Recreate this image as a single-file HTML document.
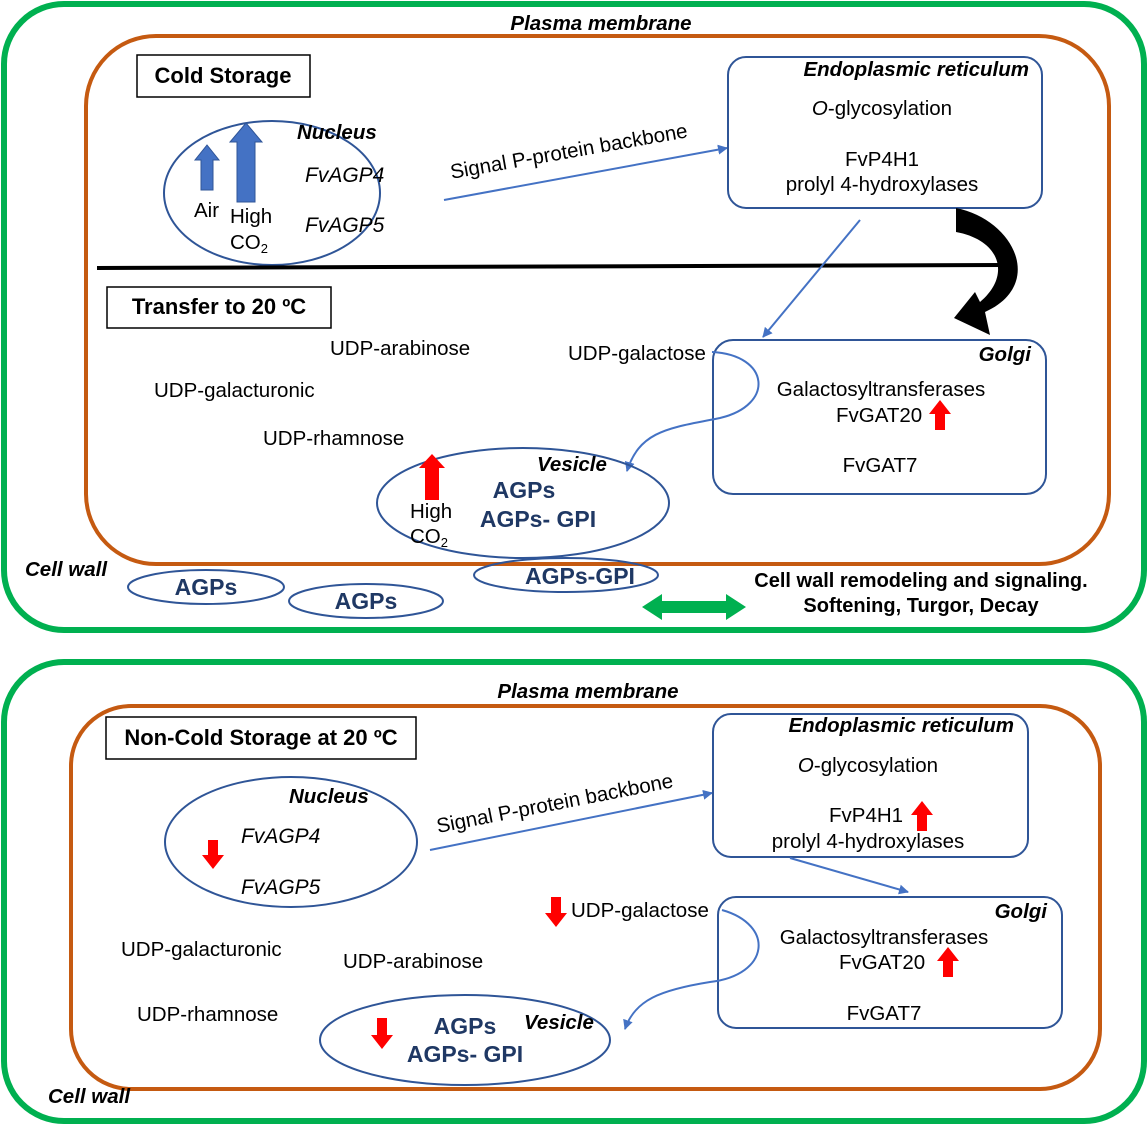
<!DOCTYPE html>
<html><head><meta charset="utf-8"><style>
html,body{margin:0;padding:0;background:#fff;}
svg{display:block;font-family:"Liberation Sans",Arial,sans-serif;}
.t{font-size:20.5px;fill:#000;}
.bi{font-size:20.5px;font-weight:bold;font-style:italic;fill:#000;}
.it{font-size:21px;font-style:italic;fill:#000;}
.nv{font-size:23px;font-weight:bold;fill:#1f3864;}
.bl{fill:none;stroke:#2f5597;stroke-width:2;}
.ln{stroke:#4472c4;stroke-width:2;fill:none;}
</style></head><body>
<svg width="1148" height="1125" viewBox="0 0 1148 1125">
<defs>
<marker id="ah" markerWidth="10" markerHeight="10" refX="9" refY="5" orient="auto" markerUnits="userSpaceOnUse"><path d="M0,0 L10,5 L0,10 Z" fill="#4472c4"/></marker>
</defs>
<!-- TOP -->
<rect x="4" y="4" width="1140" height="626" rx="60" fill="none" stroke="#00b050" stroke-width="6"/>
<rect x="86" y="36" width="1023" height="528" rx="70" fill="none" stroke="#c55a11" stroke-width="4"/>
<text x="601" y="30" class="bi" text-anchor="middle">Plasma membrane</text>
<rect x="137" y="55" width="173" height="42" fill="#fff" stroke="#000" stroke-width="1.5"/>
<text x="223" y="83" text-anchor="middle" style="font-size:22px;font-weight:bold">Cold Storage</text>
<ellipse cx="272" cy="193" rx="108" ry="72" class="bl"/>
<path d="M201,190 V160 H195 L207,145 L219,160 H213 V190 Z" fill="#4472c4" stroke="#2f5597"/>
<path d="M237,202 V142 H230 L246,123 L262,142 H255 V202 Z" fill="#4472c4" stroke="#2f5597"/>
<text x="194" y="217" class="t">Air</text>
<text x="230" y="223" class="t">High</text>
<text x="230" y="249" class="t">CO<tspan font-size="13" dy="4">2</tspan></text>
<text x="297" y="139" class="bi">Nucleus</text>
<text x="305" y="182" class="it">FvAGP4</text>
<text x="305" y="232" class="it">FvAGP5</text>
<line x1="444" y1="200" x2="727" y2="148" class="ln" marker-end="url(#ah)"/>
<text x="570" y="158" class="t" text-anchor="middle" transform="rotate(-10 570 158)">Signal P-protein backbone</text>
<rect x="728" y="57" width="314" height="151" rx="18" class="bl"/>
<text x="1029" y="76" class="bi" text-anchor="end">Endoplasmic reticulum</text>
<text x="882" y="115" class="t" text-anchor="middle"><tspan font-style="italic">O</tspan>-glycosylation</text>
<text x="882" y="166" class="t" text-anchor="middle">FvP4H1</text>
<text x="882" y="191" class="t" text-anchor="middle">prolyl 4-hydroxylases</text>
<line x1="97" y1="268" x2="1002" y2="265" stroke="#000" stroke-width="4"/>
<path d="M956,208 C1015,220 1045,285 985,312 L990,335 L954,318 L975,292 L980,302 C1012,275 1000,240 956,232 Z" fill="#000"/>
<line x1="860" y1="220" x2="763" y2="337" class="ln" marker-end="url(#ah)"/>
<rect x="107" y="287" width="224" height="41" fill="#fff" stroke="#000" stroke-width="1.5"/>
<text x="219" y="314" text-anchor="middle" style="font-size:22px;font-weight:bold">Transfer to 20 ºC</text>
<text x="330" y="355" class="t">UDP-arabinose</text>
<text x="154" y="397" class="t">UDP-galacturonic</text>
<text x="263" y="445" class="t">UDP-rhamnose</text>
<text x="568" y="360" class="t">UDP-galactose</text>
<rect x="713" y="340" width="333" height="154" rx="20" class="bl"/>
<text x="1031" y="361" class="bi" text-anchor="end">Golgi</text>
<text x="881" y="396" class="t" text-anchor="middle">Galactosyltransferases</text>
<text x="836" y="422" class="t">FvGAT20</text>
<path d="M935,430 V414 H929 L940,400 L951,414 H945 V430 Z" fill="#f00"/>
<text x="880" y="472" class="t" text-anchor="middle">FvGAT7</text>
<path d="M712,352 C770,355 775,405 720,418 C670,428 640,430 627,471" class="ln" marker-end="url(#ah)"/>
<ellipse cx="523" cy="503" rx="146" ry="55" class="bl"/>
<path d="M425,500 V468 H419 L432,454 L445,468 H439 V500 Z" fill="#f00"/>
<text x="410" y="518" class="t">High</text>
<text x="410" y="543" class="t">CO<tspan font-size="13" dy="4">2</tspan></text>
<text x="537" y="471" class="bi">Vesicle</text>
<text x="524" y="498" class="nv" text-anchor="middle">AGPs</text>
<text x="538" y="527" class="nv" text-anchor="middle">AGPs- GPI</text>
<ellipse cx="206" cy="587" rx="78" ry="17" class="bl"/>
<text x="206" y="595" class="nv" text-anchor="middle">AGPs</text>
<ellipse cx="366" cy="601" rx="77" ry="17" class="bl"/>
<text x="366" y="609" class="nv" text-anchor="middle">AGPs</text>
<ellipse cx="566" cy="575" rx="92" ry="17" class="bl"/>
<text x="580" y="584" class="nv" text-anchor="middle">AGPs-GPI</text>
<text x="25" y="576" class="bi">Cell wall</text>
<path d="M642,607 L662,594 V601 H726 V594 L746,607 L726,620 V613 H662 V620 Z" fill="#00b050"/>
<text x="921" y="587" text-anchor="middle" style="font-size:20px;font-weight:bold">Cell wall remodeling and signaling.</text>
<text x="921" y="612" text-anchor="middle" style="font-size:20px;font-weight:bold">Softening, Turgor, Decay</text>

<!-- BOTTOM -->
<rect x="4" y="662" width="1140" height="459" rx="60" fill="none" stroke="#00b050" stroke-width="6"/>
<rect x="71" y="706" width="1029" height="383" rx="60" fill="none" stroke="#c55a11" stroke-width="4"/>
<text x="588" y="698" class="bi" text-anchor="middle">Plasma membrane</text>
<rect x="106" y="717" width="310" height="42" fill="#fff" stroke="#000" stroke-width="1.5"/>
<text x="261" y="745" text-anchor="middle" style="font-size:22px;font-weight:bold">Non-Cold Storage at 20 ºC</text>
<ellipse cx="291" cy="842" rx="126" ry="65" class="bl"/>
<text x="289" y="803" class="bi">Nucleus</text>
<text x="241" y="843" class="it">FvAGP4</text>
<text x="241" y="894" class="it">FvAGP5</text>
<path d="M208,840 V855 H202 L213,869 L224,855 H218 V840 Z" fill="#f00"/>
<line x1="430" y1="850" x2="712" y2="793" class="ln" marker-end="url(#ah)"/>
<text x="556" y="810" class="t" text-anchor="middle" transform="rotate(-11 556 810)">Signal P-protein backbone</text>
<rect x="713" y="714" width="315" height="143" rx="18" class="bl"/>
<text x="1014" y="732" class="bi" text-anchor="end">Endoplasmic reticulum</text>
<text x="868" y="772" class="t" text-anchor="middle"><tspan font-style="italic">O</tspan>-glycosylation</text>
<text x="829" y="822" class="t">FvP4H1</text>
<path d="M917,831 V815 H911 L922,801 L933,815 H927 V831 Z" fill="#f00"/>
<text x="868" y="848" class="t" text-anchor="middle">prolyl 4-hydroxylases</text>
<line x1="790" y1="858" x2="908" y2="892" class="ln" marker-end="url(#ah)"/>
<rect x="718" y="897" width="344" height="131" rx="18" class="bl"/>
<text x="1047" y="918" class="bi" text-anchor="end">Golgi</text>
<text x="884" y="944" class="t" text-anchor="middle">Galactosyltransferases</text>
<text x="839" y="969" class="t">FvGAT20</text>
<path d="M943,977 V961 H937 L948,947 L959,961 H953 V977 Z" fill="#f00"/>
<text x="884" y="1020" class="t" text-anchor="middle">FvGAT7</text>
<path d="M551,897 V913 H545 L556,927 L567,913 H561 V897 Z" fill="#f00"/>
<text x="571" y="917" class="t">UDP-galactose</text>
<path d="M722,910 C775,925 770,975 710,982 C660,990 635,1000 625,1029" class="ln" marker-end="url(#ah)"/>
<text x="121" y="956" class="t">UDP-galacturonic</text>
<text x="343" y="968" class="t">UDP-arabinose</text>
<text x="137" y="1021" class="t">UDP-rhamnose</text>
<ellipse cx="465" cy="1040" rx="145" ry="45" class="bl"/>
<path d="M377,1018 V1035 H371 L382,1049 L393,1035 H387 V1018 Z" fill="#f00"/>
<text x="465" y="1034" class="nv" text-anchor="middle">AGPs</text>
<text x="465" y="1062" class="nv" text-anchor="middle">AGPs- GPI</text>
<text x="524" y="1029" class="bi">Vesicle</text>
<text x="48" y="1103" class="bi">Cell wall</text>
</svg>
</body></html>
